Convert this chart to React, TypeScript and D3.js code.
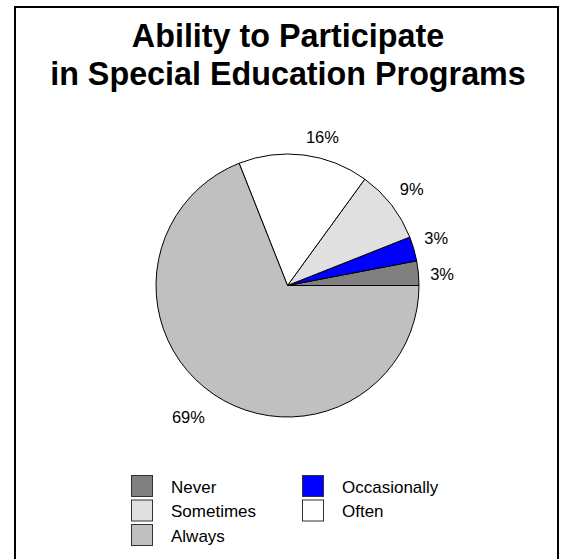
import React from "react";
import * as d3 from "d3";

const titleLines = ["Ability to Participate", "in Special Education Programs"];
const categories = ["Never", "Occasionally", "Sometimes", "Often", "Always"];
const values = [3, 3, 9, 16, 69];
const labels = ["3%", "3%", "9%", "16%", "69%"];
const colors = ["#808080", "#0000ff", "#e0e0e0", "#ffffff", "#c0c0c0"];

// layout constants (label placement in degrees counter-clockwise from east, and radius)
const LABEL_ANGLE = [4.1, 17.5, 37.7, 76.7, 233.1];
const LABEL_RADIUS = [155, 156, 157, 152, 165];

const W = 563;
const H = 559;
const CX = 287.5;
const CY = 285.5;
const R = 131.5;
const FONT = "'Liberation Sans', Arial, Helvetica, sans-serif";

export default function App() {
  const pie = d3
    .pie<number>()
    .sort(null)
    .startAngle(Math.PI / 2)
    .endAngle(Math.PI / 2 - 2 * Math.PI)
    .value((d) => d);
  const arcs = pie(values);
  const arc = d3.arc<d3.PieArcDatum<number>>().innerRadius(0).outerRadius(R);

  return (
    <svg
      width={W}
      height={H}
      style={{ position: "absolute", left: 0, top: 0, background: "#fff" }}
    >
      <rect x={0} y={0} width={W} height={H} fill="#fff" />
      <path d={`M15,${H + 5}V7H558V${H + 5}`} fill="none" stroke="#000" strokeWidth={2} />
      {titleLines.map((t, i) => (
        <text
          key={i}
          x={288}
          y={47 + i * 38}
          textAnchor="middle"
          fontFamily={FONT}
          fontWeight="bold"
          fontSize={32.3}
          fill="#000"
        >
          {t}
        </text>
      ))}
      <g transform={`translate(${CX},${CY})`}>
        {arcs.map((a, i) => (
          <path
            key={i}
            d={arc(a) || ""}
            fill={colors[i]}
            stroke="#000"
            strokeWidth={1}
            strokeLinejoin="round"
          />
        ))}
        {arcs.map((a, i) => {
          const th = (LABEL_ANGLE[i] * Math.PI) / 180;
          const x = LABEL_RADIUS[i] * Math.cos(th);
          const y = -LABEL_RADIUS[i] * Math.sin(th);
          return (
            <text
              key={"l" + i}
              x={x}
              y={y}
              dy="0.35em"
              textAnchor="middle"
              fontFamily={FONT}
              fontSize={16.5}
              fill="#000"
            >
              {labels[i]}
            </text>
          );
        })}
      </g>
      <g>
        {categories.map((c, i) => {
          const col = i % 2;
          const row = Math.floor(i / 2);
          const bx = 131 + col * 171;
          const by = 475 + row * 24.5;
          return (
            <g key={c}>
              <rect
                x={bx + 0.5}
                y={by + 0.5}
                width={21}
                height={21}
                fill={colors[i]}
                stroke="#333"
                strokeWidth={1}
              />
              <text
                x={bx + 40}
                y={by + 17.5}
                fontFamily={FONT}
                fontSize={17}
                fill="#000"
              >
                {c}
              </text>
            </g>
          );
        })}
      </g>
    </svg>
  );
}
